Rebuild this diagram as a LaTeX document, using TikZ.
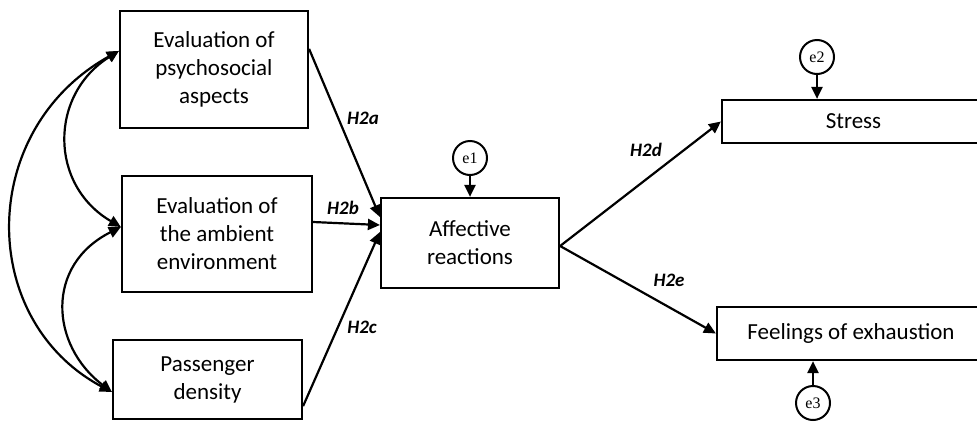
\documentclass[tikz,border=0pt]{standalone}
\usepackage{fontspec}
\setmainfont{Carlito}
\newfontfamily\errfont{Liberation Serif}
\usetikzlibrary{arrows.meta}

\tikzset{
  varbox/.style={draw, line width=2.2pt, align=center, inner sep=0pt,
    font=\fontsize{23}{28}\selectfont},
  errnode/.style={draw, circle, line width=2pt, minimum size=34pt, inner sep=0pt,
    font=\errfont\fontsize{16}{16}\selectfont},
  path/.style={line width=2.2pt, -{Triangle[length=12pt,width=11pt]}},
  cov/.style={line width=2.2pt, {Triangle[length=12pt,width=11pt]}-{Triangle[length=12pt,width=11pt]}},
  hyp/.style={font=\bfseries\itshape\fontsize{19}{19}\selectfont, inner sep=0pt}
}

\begin{document}
\begin{tikzpicture}[x=1pt, y=-1pt]
\useasboundingbox (0,0) rectangle (977,421);

% exogenous evaluations
\node[varbox, minimum width=188pt, minimum height=117pt] (psy) at (214,69.5)
  {Evaluation of\\psychosocial\\aspects};
\node[varbox, minimum width=190pt, minimum height=116pt] (amb) at (217,234)
  {Evaluation of\\the ambient\\environment};
\node[varbox, minimum width=189pt, minimum height=79pt] (den) at (207.5,379.5)
  {Passenger\\density};

% mediator and outcomes
\node[varbox, minimum width=178pt, minimum height=90pt] (aff) at (470,243)
  {Affective\\reactions};
\node[varbox, minimum width=263pt, minimum height=43pt] (str) at (853.5,121.5)
  {Stress};
\node[varbox, minimum width=268pt, minimum height=53pt] (exh) at (851,333.5)
  {Feelings of exhaustion};

% error terms
\node[errnode] (e1) at (470,158) {e1};
\node[errnode] (e2) at (817,57) {e2};
\node[errnode] (e3) at (813,403) {e3};

\draw[path] (e1.south) -- (aff.north);
\draw[path] (e2.south) -- (e2.south |- str.north);
\draw[path] (e3.north) -- (e3.north |- exh.south);

% hypothesised paths
\draw[path] ([yshift=-39pt]psy.north east) -- ([yshift=26pt]aff.west);
\draw[path] ([yshift=12pt]amb.east) -- ([yshift=18pt]aff.west);
\draw[path] ([yshift=14pt]den.south east) -- ([yshift=11pt]aff.west);
\draw[path] ([yshift=-3pt]aff.east) -- (str.west);
\draw[path] ([yshift=-3pt]aff.east) -- (exh.west);

\node[hyp] (h2a) at (363,118) {H2a};
\node[hyp] (h2b) at (343,208) {H2b};
\node[hyp] (h2c) at (362,327) {H2c};
\node[hyp] (h2d) at (646,150) {H2d};
\node[hyp] (h2e) at (669,280) {H2e};

% covariances among the evaluations
\coordinate (pL) at ([yshift=-41pt]psy.north west);
\coordinate (aL) at ([yshift=7pt]amb.west);
\coordinate (dL) at ([yshift=-12.5pt]den.west);
\draw[cov] (pL) .. controls (49,95) and (49,185) .. (aL);
\draw[cov] (aL) .. controls (45,265) and (50,345) .. (dL);
\draw[cov] (pL) .. controls (-23,130) and (-23,320) .. (dL);
\end{tikzpicture}
\end{document}
